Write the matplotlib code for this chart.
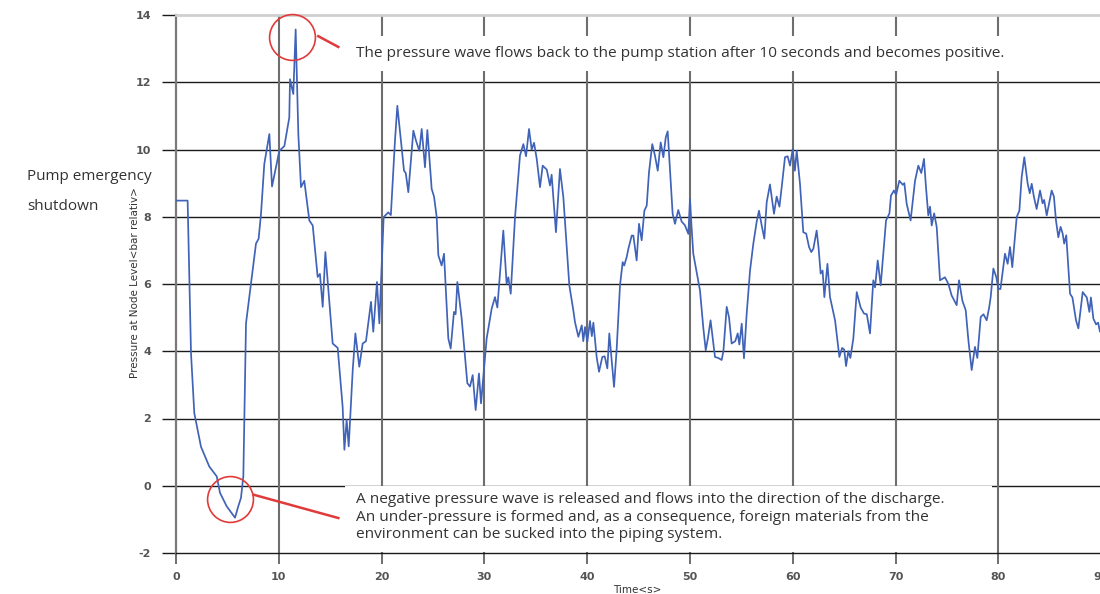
import matplotlib
matplotlib.use("Agg")
import matplotlib.pyplot as plt
import matplotlib.patches as mpatches

plt.rcParams["axes.unicode_minus"] = False

# pressure at the node after the pump trips
time_s = [
    0, 1.13, 1.3, 1.46, 1.78, 2.43, 3.24, 3.96, 4.28, 4.93, 5.74, 6.06, 6.32, 6.55,
    6.71, 6.81, 7.13, 7.78, 8.04, 8.27, 8.59, 9.08, 9.34, 10.05, 10.54, 11.02, 11.09,
    11.41, 11.64, 11.9, 12.16, 12.48, 12.97, 13.3, 13.78, 14.0, 14.27, 14.53, 15.24,
    15.73, 16.21, 16.38, 16.6, 16.8, 17.19, 17.45, 17.83, 18.16, 18.48, 18.97, 19.19,
    19.55, 19.78, 20.2, 20.65, 20.9, 21.3, 21.53, 21.86, 22.18, 22.35, 22.6, 23.09,
    23.35, 23.67, 23.9, 24.22, 24.45, 24.87, 25.1, 25.36, 25.52, 25.84, 26.07, 26.49,
    26.72, 27.04, 27.2, 27.37, 27.79, 28.34, 28.6, 28.86, 29.15, 29.47, 29.67, 30.22,
    30.71, 31.03, 31.26, 31.45, 31.84, 32.16, 32.33, 32.56, 32.98, 33.46, 33.79, 34.05,
    34.34, 34.6, 34.83, 35.09, 35.41, 35.67, 36.07, 36.38, 36.54, 36.96, 37.35, 37.68,
    38.26, 38.65, 38.81, 39.14, 39.47, 39.62, 39.79, 40.01, 40.27, 40.45, 40.6, 40.92,
    41.15, 41.47, 41.7, 41.96, 42.15, 42.41, 42.61, 42.86, 43.19, 43.45, 43.6, 43.84,
    44.0, 44.33, 44.49, 44.81, 45.04, 45.3, 45.56, 45.79, 46.01, 46.33, 46.59, 46.86,
    47.15, 47.41, 47.64, 47.83, 48.05, 48.31, 48.54, 48.86, 49.18, 49.5, 49.84, 50.0,
    50.15, 50.32, 50.97, 51.3, 51.53, 51.75, 52.0, 52.43, 52.75, 53.08, 53.25, 53.57,
    53.8, 54.05, 54.4, 54.64, 54.8, 55.03, 55.25, 55.51, 55.84, 56.16, 56.48, 56.71,
    57.0, 57.23, 57.46, 57.78, 58.17, 58.43, 58.7, 58.92, 59.24, 59.5, 59.73, 59.99,
    60.2, 60.38, 60.7, 61.02, 61.3, 61.58, 61.8, 62.0, 62.32, 62.5, 62.71, 62.9, 63.07,
    63.37, 63.62, 64.11, 64.53, 64.8, 65.0, 65.18, 65.4, 65.6, 65.89, 66.22, 66.6,
    66.93, 67.2, 67.51, 67.83, 68.0, 68.26, 68.55, 69.07, 69.4, 69.55, 69.84, 70.05,
    70.36, 70.7, 70.85, 71.08, 71.46, 71.89, 72.21, 72.5, 72.76, 72.95, 73.18, 73.35,
    73.51, 73.75, 74.0, 74.32, 74.8, 75.13, 75.45, 75.94, 76.17, 76.5, 76.82, 77.08,
    77.4, 77.72, 77.95, 78.28, 78.55, 78.86, 79.1, 79.25, 79.51, 79.8, 79.99, 80.2,
    80.64, 80.9, 81.13, 81.35, 81.78, 82.04, 82.26, 82.52, 82.85, 83.05, 83.24, 83.45,
    83.72, 84.05, 84.3, 84.45, 84.7, 85.18, 85.4, 85.6, 85.83, 86.05, 86.25, 86.4,
    86.6, 86.97, 87.2, 87.55, 87.78, 88.2, 88.6, 88.85, 89.0, 89.24, 89.5, 89.7,
    89.88, 90.0,
]
pressure_bar = [
    8.48, 8.48, 6.1, 3.94, 2.16, 1.16, 0.57, 0.28, -0.21, -0.61, -0.95, -0.61, -0.36, 0.28,
    3.14, 4.83, 5.61, 7.2, 7.35, 8.09, 9.57, 10.46, 8.9, 9.96, 10.1, 10.95, 12.09,
    11.65, 13.57, 10.46, 8.88, 9.07, 7.89, 7.74, 6.21, 6.3, 5.32, 6.95, 4.23,
    4.1, 2.35, 1.07, 1.96, 1.17, 3.44, 4.53, 3.54, 4.23, 4.3, 5.47, 4.58,
    6.06, 4.83, 7.99, 8.13, 8.05, 10.26, 11.3, 10.31, 9.37, 9.3, 8.73, 10.56,
    10.26, 9.96, 10.61, 9.47, 10.58, 8.83, 8.6, 7.99, 6.85, 6.55, 6.9, 4.38,
    4.08, 5.17, 5.1, 6.06, 4.97, 3.05, 2.95, 3.29, 2.25, 3.34, 2.45, 4.38,
    5.27, 5.61, 5.3, 6.06, 7.59, 6.01, 6.2, 5.71, 7.99, 9.82, 10.16, 9.8,
    10.61, 10.0, 10.2, 9.72, 8.88, 9.52, 9.4, 8.93, 9.25, 7.54, 9.42, 8.58,
    5.96, 5.22, 4.87, 4.43, 4.77, 4.3, 4.72, 4.28, 4.9, 4.45, 4.85, 3.83,
    3.39, 3.83, 3.85, 3.49, 4.53, 3.63, 2.94, 4.03, 5.96, 6.65, 6.55, 6.8,
    7.04, 7.44, 7.44, 6.7, 7.79, 7.3, 8.18, 8.33, 9.32, 10.16, 9.82, 9.37,
    10.21, 9.77, 10.36, 10.54, 9.4, 8.09, 7.79, 8.2, 7.86, 7.75, 7.49, 8.53,
    7.7, 6.9, 5.81, 4.68, 4.03, 4.4, 4.92, 3.83, 3.8, 3.74, 4.0, 5.32,
    5.0, 4.23, 4.3, 4.53, 4.2, 4.82, 3.79, 5.1, 6.4, 7.2, 7.84, 8.18,
    7.7, 7.35, 8.43, 8.96, 8.09, 8.6, 8.3, 8.88, 9.77, 9.8, 9.52, 10.01,
    9.37, 9.96, 8.98, 7.54, 7.5, 7.1, 6.95, 7.05, 7.59, 7.1, 6.31, 6.4, 5.61,
    6.6, 5.61, 4.92, 3.83, 4.1, 4.05, 3.56, 4.0, 3.8, 4.38, 5.76, 5.3,
    5.12, 5.1, 4.53, 6.11, 5.9, 6.7, 5.96, 7.89, 8.1, 8.63, 8.78, 8.65,
    9.07, 8.95, 9.0, 8.38, 7.89, 9.07, 9.52, 9.3, 9.72, 8.9, 8.04, 8.3,
    7.74, 8.1, 7.69, 6.11, 6.2, 6.01, 5.66, 5.37, 6.11, 5.5, 5.22, 4.33,
    3.44, 4.13, 3.8, 5.02, 5.1, 4.92, 5.3, 5.61, 6.46, 6.2, 5.86, 5.85,
    6.9, 6.6, 7.1, 6.5, 7.99, 8.18, 9.17, 9.77, 8.98, 8.7, 8.98, 8.6,
    8.23, 8.78, 8.4, 8.5, 8.04, 8.78, 8.6, 7.89, 7.39, 7.7, 7.5, 7.2,
    7.45, 5.71, 5.6, 4.92, 4.68, 5.76, 5.6, 5.17, 5.6, 4.97, 4.8, 4.85,
    4.58, 4.65,
]

x_ticks = [0, 10, 20, 30, 40, 50, 60, 70, 80, 90]
y_ticks = [-2, 0, 2, 4, 6, 8, 10, 12, 14]

note_top = "The pressure wave flows back to the pump station after 10 seconds and becomes positive."
note_bottom = ("A negative pressure wave is released and flows into the direction of the discharge.\n"
               "An under-pressure is formed and, as a consequence, foreign materials from the\n"
               "environment can be sucked into the piping system.")

LINE_BLUE = "#4063b8"
RED = "#e03a3a"
TEXT = "#333333"
NOTE_FONT = ["Open Sans", "DejaVu Sans"]

fig = plt.figure(figsize=(11, 5.94), dpi=100)
ax = fig.add_axes([176 / 1100, 41 / 594, 925.2 / 1100, 538 / 594])

ax.set_xlim(0, 90)
ax.set_ylim(-2, 14)
ax.set_xticks(x_ticks)
ax.set_yticks(y_ticks)

# grid: black horizontals, grey verticals
for y in y_ticks[1:-1]:
    ax.axhline(y, color="#1a1a1a", lw=1.0, zorder=1)
for x in x_ticks[1:]:
    ax.axvline(x, color="#6e6e6e", lw=1.5, zorder=1)

ax.spines["right"].set_visible(False)
ax.spines["top"].set_color("#cfcfcf")
ax.spines["top"].set_linewidth(2)
ax.spines["left"].set_color("#7a7a7a")
ax.spines["left"].set_linewidth(1.6)
ax.spines["bottom"].set_color("#1a1a1a")
ax.spines["bottom"].set_linewidth(1.0)

ax.tick_params(axis="y", direction="out", length=10, width=1, color="#1a1a1a",
               labelsize=8, labelcolor="#555555", pad=8)
ax.tick_params(axis="x", direction="out", length=8, width=1.2, color="#555555",
               labelsize=8, labelcolor="#555555", pad=6)
for lab in ax.get_xticklabels() + ax.get_yticklabels():
    lab.set_fontweight("bold")

ax.plot(time_s, pressure_bar, color=LINE_BLUE, lw=1.25, zorder=4)

# white panels behind the two notes
ax.add_patch(mpatches.Rectangle((16.4, 12.34), 65.4, 1.03, facecolor="white",
                                edgecolor="none", zorder=2))
ax.add_patch(mpatches.Rectangle((16.4, -1.98), 63.0, 1.97, facecolor="white",
                                edgecolor="none", zorder=2))

ax.text(17.55, 12.85, note_top, fontsize=11.1, color=TEXT, family=NOTE_FONT,
        va="center", ha="left", zorder=6)
ax.text(17.55, -0.93, note_bottom, fontsize=11.1, color=TEXT, family=NOTE_FONT,
        va="center", ha="left", linespacing=1.25, zorder=6)

# red callouts: circles plus leader lines
ax.plot([11.3], [13.36], marker="o", ms=33, mfc="none", mec=RED, mew=1.2,
        clip_on=False, zorder=7)
ax.plot([13.84, 15.79], [13.37, 13.05], color=RED, lw=1.8, zorder=7)
ax.plot([5.22], [-0.38], marker="o", ms=33, mfc="none", mec=RED, mew=1.2,
        clip_on=False, zorder=7)
ax.plot([7.59, 15.79], [-0.27, -0.96], color=RED, lw=1.8, zorder=7)

ax.set_ylabel("Pressure at Node Level<bar relativ>", fontsize=7.5, color=TEXT)
ax.set_xlabel("Time<s>", fontsize=7.5, color=TEXT)
ax.xaxis.set_label_coords((637 - 176) / 925.2, -0.06)
ax.yaxis.set_label_coords(-(176 - 140) / 925.2, (553 - 283) / 538)

fig.text(27 / 1100, 1 - 177 / 594, "Pump emergency", fontsize=11, color=TEXT,
         family=NOTE_FONT, va="center", ha="left")
fig.text(27 / 1100, 1 - 206 / 594, "shutdown", fontsize=11, color=TEXT,
         family=NOTE_FONT, va="center", ha="left")

fig.savefig("out.png", dpi=100)
